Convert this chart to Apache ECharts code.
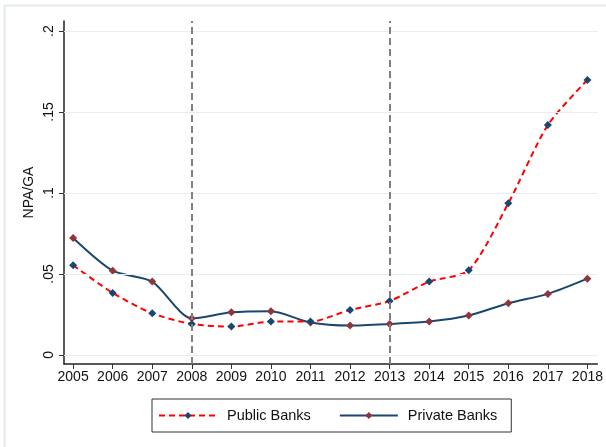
<!DOCTYPE html>
<html>
<head>
<meta charset="utf-8">
<script src="https://cdn.jsdelivr.net/npm/echarts@6/dist/echarts.min.js"></script>
<style>html,body{margin:0;padding:0;background:#fff}#c{width:606px;height:447px}</style>
</head>
<body>
<div id="c"></div>
<script>
var years = [2005,2006,2007,2008,2009,2010,2011,2012,2013,2014,2015,2016,2017,2018];
var publicBanks = [0.0554,0.0383,0.0257,0.0191,0.0175,0.0206,0.0206,0.0278,0.0333,0.0453,0.0523,0.0936,0.142,0.1698];
var privateBanks = [0.0722,0.0520,0.0453,0.0226,0.0263,0.0270,0.0200,0.0181,0.0191,0.0206,0.0243,0.0319,0.0377,0.0471];
var yTicks = [0, 0.05, 0.1, 0.15, 0.2];
var eventYears = [2008, 2013];

function pairs(xs, ys){ return xs.map(function(x,i){ return [x, ys[i]]; }); }
var font = 'Liberation Sans, Arial, sans-serif';

var chart = echarts.init(document.getElementById('c'), null, {renderer:'canvas'});
chart.setOption({
  animation: false,
  backgroundColor: '#ffffff',
  graphic: [{
    type: 'rect', z: -10,
    shape: {x: 4.5, y: 5.5, width: 700, height: 600},
    style: {fill: 'none', stroke: '#e3ebee', lineWidth: 2}
  }],
  grid: {left: 64, right: 7, top: 21, bottom: 83, containLabel: false},
  xAxis: {
    type: 'value', min: 2004.77, max: 2018.25,
    axisLine: {show: true, onZero: false, lineStyle: {color: '#222', width: 1.5}},
    axisTick: {show: true, customValues: years, length: 5, lineStyle: {color: '#333', width: 1}},
    axisLabel: {customValues: years, color: '#111', fontFamily: font, fontSize: 14, margin: 6,
      formatter: function(v){ return String(Math.round(v)); }},
    splitLine: {show: false}
  },
  yAxis: {
    type: 'value', min: -0.0056, max: 0.2062,
    name: 'NPA/GA', nameLocation: 'middle', nameGap: 28, nameRotate: 90,
    nameMoveOverlap: false,
    nameTextStyle: {color: '#111', fontFamily: font, fontSize: 14},
    axisLine: {show: true, onZero: false, lineStyle: {color: '#222', width: 1.5}},
    axisTick: {show: true, customValues: yTicks, length: 5, lineStyle: {color: '#333', width: 1}},
    axisLabel: {customValues: yTicks, rotate: 90, color: '#111', fontFamily: font, fontSize: 14, margin: 8,
      formatter: function(v){ if (Math.abs(v) < 1e-9) return '0'; return String(+v.toFixed(2)).replace(/^0\./, '.'); }},
    splitLine: {show: false}
  },
  legend: {
    left: 152, top: 399,
    orient: 'horizontal',
    itemWidth: 58, itemHeight: 9, itemGap: 28,
    padding: [9, 14, 9, 6],
    borderColor: '#333', borderWidth: 1,
    textStyle: {color: '#111', fontFamily: font, fontSize: 14.5, padding: [0, 0, 0, 5]},
    data: ['Public Banks', 'Private Banks']
  },
  series: [
    {
      name: 'grid', type: 'line', data: [], silent: true,
      markLine: {
        silent: true, symbol: 'none', label: {show: false},
        lineStyle: {color: '#e6eef1', width: 1, type: 'solid'},
        data: yTicks.map(function(t){ return {yAxis: t}; })
      },
      z: 1
    },
    {
      name: 'events', type: 'line', data: [], silent: true,
      markLine: {
        silent: true, symbol: 'none', label: {show: false},
        lineStyle: {color: '#808080', width: 2, type: [7, 4]},
        data: eventYears.map(function(y){ return {xAxis: y}; })
      },
      z: 2
    },
    {
      name: 'Public Banks', type: 'line', data: pairs(years, publicBanks),
      smooth: 0.25,
      symbol: 'diamond', symbolSize: 8,
      lineStyle: {color: '#ff0000', width: 2, type: [6, 4]},
      itemStyle: {color: '#1a476f'},
      z: 4
    },
    {
      name: 'Private Banks', type: 'line', data: pairs(years, privateBanks),
      smooth: 0.25,
      symbol: 'diamond', symbolSize: 8,
      lineStyle: {color: '#1a476f', width: 2, type: 'solid'},
      itemStyle: {color: '#90353b'},
      z: 3
    }
  ]
});
</script>
</body>
</html>
